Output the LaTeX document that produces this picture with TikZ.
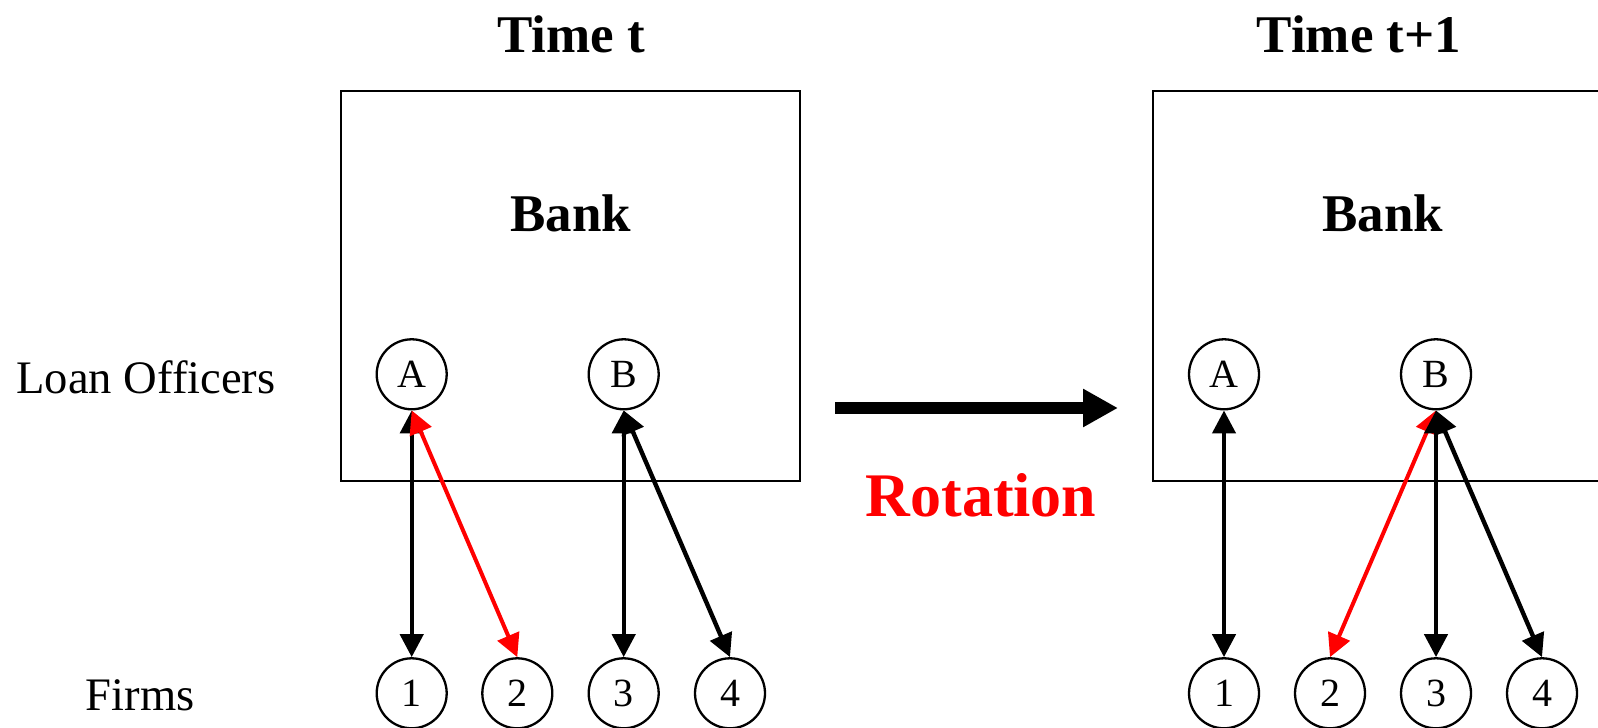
\documentclass[tikz,border=0pt]{standalone}
\usepackage{fontspec}
\setmainfont{Liberation Serif}
\usepackage{xcolor}
\usetikzlibrary{arrows.meta}

\tikzset{
	officer/.style={circle, draw, line width=1.15pt, minimum size=35pt, inner sep=0pt, font=\fontsize{20}{20}\selectfont},
	bankbox/.style={draw, line width=1.15pt},
	headline/.style={anchor=base, inner sep=0pt, font=\fontsize{26.5}{30}\selectfont\bfseries},
	rowlabel/.style={anchor=base, inner sep=0pt, font=\fontsize{23.3}{26}\selectfont},
	link/.style={line width=2.2pt, {Triangle[length=11.5pt,width=11.5pt]}-{Triangle[length=11.5pt,width=11.5pt]}},
	redlink/.style={link, red, line width=2pt}
}

\begin{document}
\begin{tikzpicture}[x=0.5pt, y=0.5pt]
	% Rand festlegen
	\useasboundingbox (0,0) rectangle (1598,727);
	\clip (0,0) rectangle (1598,727);
	
	% Banken zeichnen
	\draw[bankbox] (341,246) rectangle (800,636);
	\draw[bankbox] (1153,246) rectangle (1612,636);
	
	% Ueberschriften
	\node[headline] (timeL) at (571,674) {Time t};
	\node[headline] (timeR) at (1359,674) {Time t+1};
	\node[headline] (bankL) at (571,495) {Bank};
	\node[headline] (bankR) at (1383,495) {Bank};
	
	% Zeilenbeschriftungen
	\node[rowlabel] (officers) at (146,333) {Loan Officers};
	\node[rowlabel] (firms) at (140,17) {Firms};
	
	% Kreditberater und Firmen, Zeitpunkt t
	\node[officer] (AL) at (411.7,352.7) {A};
	\node[officer] (BL) at (623.7,352.7) {B};
	\node[officer] (f1L) at (411.7,33.7) {1};
	\node[officer] (f2L) at (517.3,33.7) {2};
	\node[officer] (f3L) at (623.7,33.7) {3};
	\node[officer] (f4L) at (730,33.7) {4};
	
	% Kreditberater und Firmen, Zeitpunkt t+1
	\node[officer] (AR) at (1224,352.7) {A};
	\node[officer] (BR) at (1436,352.7) {B};
	\node[officer] (f1R) at (1224,33.7) {1};
	\node[officer] (f2R) at (1330,33.7) {2};
	\node[officer] (f3R) at (1436,33.7) {3};
	\node[officer] (f4R) at (1542,33.7) {4};
	
	% Beziehungen zeichnen
	\draw[link] (AL.south) to (f1L.north);
	\draw[redlink] (AL.south) to (f2L.north);
	\draw[link] (BL.south) to (f3L.north);
	\draw[link] (BL.south) to (f4L.north);
	
	\draw[link] (AR.south) to (f1R.north);
	\draw[redlink] (BR.south) to (f2R.north);
	\draw[link] (BR.south) to (f3R.north);
	\draw[link] (BR.south) to (f4R.north);
	
	% Rotationspfeil
	\coordinate (rotStart) at (835,319);
	\coordinate (rotEnd) at (1118,319);
	\draw[line width=6.35pt, -{Triangle[length=17.5pt,width=18pt]}] (rotStart) to (rotEnd);
	\node[headline, red, font=\fontsize{31}{34}\selectfont\bfseries] (rotation) at (981,210.3) {Rotation};
\end{tikzpicture}
\end{document}
